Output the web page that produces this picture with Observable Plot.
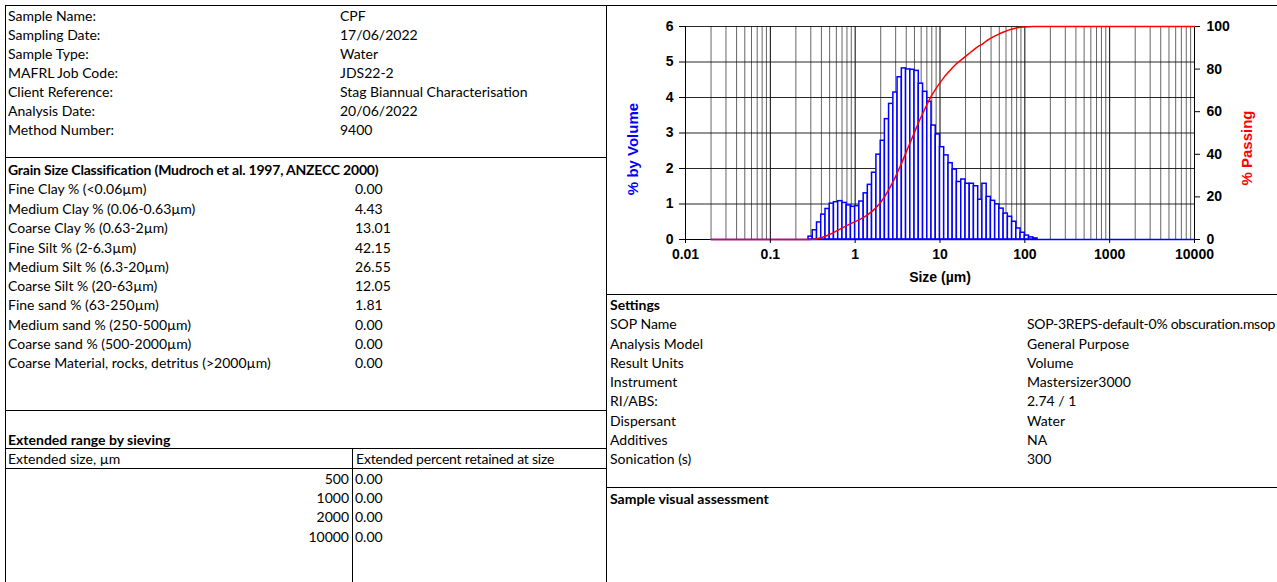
<!DOCTYPE html>
<html><head><meta charset="utf-8">
<script src="https://cdn.jsdelivr.net/npm/d3@7"></script>
<script src="https://cdn.jsdelivr.net/npm/@observablehq/plot@0.6"></script>
<style>
html,body{margin:0;padding:0;background:#fff;}
#page{position:relative;width:1277px;height:582px;overflow:hidden;font-family:Lato,"Open Sans",sans-serif;font-size:14px;color:#000;background:#fff;}
.t{position:absolute;white-space:nowrap;line-height:20px;height:20px;}
.b{font-weight:bold;}
.tight{letter-spacing:-0.2px;}
.tighter{letter-spacing:-0.28px;}
.ln{position:absolute;background:#000;}
#chart{position:absolute;left:607px;top:0;}
</style></head>
<body><div id="page"><div id="chart"></div></div>
<script>
// ---------- table data ----------
const infoLabels = ["Sample Name:", "Sampling Date:", "Sample Type:", "MAFRL Job Code:", "Client Reference:", "Analysis Date:", "Method Number:"];
const infoValues = ["CPF", "17/06/2022", "Water", "JDS22-2", "Stag Biannual Characterisation", "20/06/2022", "9400"];
const grainTitle = "Grain Size Classification (Mudroch et al. 1997, ANZECC 2000)";
const grainLabels = ["Fine Clay % (<0.06µm)", "Medium Clay % (0.06-0.63µm)", "Coarse Clay % (0.63-2µm)", "Fine Silt % (2-6.3µm)", "Medium Silt % (6.3-20µm)", "Coarse Silt % (20-63µm)", "Fine sand % (63-250µm)", "Medium sand % (250-500µm)", "Coarse sand % (500-2000µm)", "Coarse Material, rocks, detritus (>2000µm)"];
const grainValues = ["0.00", "4.43", "13.01", "42.15", "26.55", "12.05", "1.81", "0.00", "0.00", "0.00"];
const sieveTitle = "Extended range by sieving";
const sieveHeaders = ["Extended size, µm", "Extended percent retained at size"];
const sieveSizes = ["500", "1000", "2000", "10000"];
const sievePct = ["0.00", "0.00", "0.00", "0.00"];
const settingsTitle = "Settings";
const settingsLabels = ["SOP Name", "Analysis Model", "Result Units", "Instrument", "RI/ABS:", "Dispersant", "Additives", "Sonication (s)"];
const settingsValues = ["SOP-3REPS-default-0% obscuration.msop", "General Purpose", "Volume", "Mastersizer3000", "2.74 / 1", "Water", "NA", "300"];
const visualTitle = "Sample visual assessment";

// ---------- chart data ----------
const binEdges = [0.282, 0.316, 0.355, 0.398, 0.447, 0.501, 0.562, 0.631, 0.708, 0.794, 0.891,
  1.00, 1.12, 1.26, 1.41, 1.58, 1.78, 2.00, 2.24, 2.51, 2.82, 3.16, 3.55, 3.98, 4.47, 5.01, 5.62, 6.31, 7.08, 7.94, 8.91,
  10.0, 11.2, 12.6, 14.1, 15.8, 17.8, 20.0, 22.4, 25.1, 28.2, 31.6, 35.5, 39.8, 44.7, 50.1, 56.2, 63.1, 70.8, 79.4, 89.1,
  100, 112, 126, 141];
const volumePct = [0.08, 0.26, 0.48, 0.70, 0.86, 1.01, 1.05, 1.08, 1.03, 0.96, 0.92,
  0.94, 1.07, 1.30, 1.54, 1.88, 2.39, 2.78, 3.39, 3.82, 4.14, 4.57, 4.82, 4.79, 4.78, 4.75, 4.39, 4.16, 3.88, 3.21, 2.96,
  2.60, 2.37, 2.15, 1.97, 1.62, 1.69, 1.57, 1.57, 1.50, 1.12, 1.57, 1.20, 1.09, 0.99, 0.87, 0.73, 0.64, 0.50, 0.31, 0.19,
  0.11, 0.06, 0.03];
const passingSize = [0.02, 0.282, 0.316, 0.355, 0.398, 0.447, 0.501, 0.562, 0.631, 0.708, 0.794, 0.891,
  1.00, 1.12, 1.26, 1.41, 1.58, 1.78, 2.00, 2.24, 2.51, 2.82, 3.16, 3.55, 3.98, 4.47, 5.01, 5.62, 6.31, 7.08, 7.94, 8.91,
  10.0, 11.2, 12.6, 14.1, 15.8, 17.8, 20.0, 22.4, 25.1, 28.2, 31.6, 35.5, 39.8, 44.7, 50.1, 56.2, 63.1, 70.8, 79.4, 89.1,
  100, 112, 126, 141, 10000];
const passingPct = [0, 0, 0.08, 0.34, 0.82, 1.51, 2.37, 3.38, 4.42, 5.50, 6.52, 7.48,
  8.39, 9.33, 10.39, 11.69, 13.22, 15.09, 17.47, 20.24, 23.62, 27.42, 31.54, 36.09, 40.89, 45.66, 50.42, 55.15, 59.52, 63.66, 67.52, 70.72,
  73.67, 76.25, 78.61, 80.75, 82.71, 84.33, 86.01, 87.57, 89.14, 90.63, 91.74, 93.31, 94.50, 95.59, 96.57, 97.44, 98.17, 98.81, 99.31, 99.62,
  99.81, 99.92, 99.98, 100, 100];
const measuredRange = [0.02, 10000];
const xTicks = [0.01, 0.1, 1, 10, 100, 1000, 10000];
const xTickLabels = ["0.01", "0.1", "1", "10", "100", "1000", "10000"];
const volTicks = [0, 1, 2, 3, 4, 5, 6];
const passTicks = [0, 20, 40, 60, 80, 100];
const xTitle = "Size (µm)";
const volTitle = "% by Volume";
const passTitle = "% Passing";

// ---------- page layout ----------
const page = document.getElementById("page");
function txt(s, x, yc, cls, align, w) {
  const d = document.createElement("div");
  d.className = "t" + (cls ? " " + cls : "");
  d.textContent = s;
  d.style.top = (yc - 10) + "px";
  if (align === "right") { d.style.left = (x - w) + "px"; d.style.width = w + "px"; d.style.textAlign = "right"; }
  else d.style.left = x + "px";
  page.appendChild(d);
}
function line(x, y, w, h) {
  const d = document.createElement("div");
  d.className = "ln";
  Object.assign(d.style, {left: x + "px", top: y + "px", width: w + "px", height: h + "px"});
  page.appendChild(d);
}
// borders
line(5, 5, 1272, 1);
line(5, 5, 1, 577);
line(606, 5, 1, 577);
line(5, 157, 601, 1);
line(5, 410, 601, 1);
line(5, 448, 601, 1);
line(5, 468, 601, 1);
line(352, 448, 1, 134);
line(606, 294, 671, 1);
line(606, 487, 671, 1);

const infoY = [16, 35, 54, 73, 92, 111, 130];
infoLabels.forEach((s, i) => { txt(s, 8, infoY[i]); txt(infoValues[i], 340, infoY[i]); });
txt(grainTitle, 8, 170, "b tight");
const grainY = [189, 208.5, 228, 247.5, 266.5, 286, 305, 324.5, 343.5, 362.5];
grainLabels.forEach((s, i) => { txt(s, 8, grainY[i]); txt(grainValues[i], 355, grainY[i]); });
txt(sieveTitle, 8, 440, "b");
txt(sieveHeaders[0], 8, 459);
txt(sieveHeaders[1], 356, 459, "tight");
const sieveY = [479, 498, 517, 536.5];
sieveSizes.forEach((s, i) => { txt(s, 349, sieveY[i], "", "right", 120); txt(sievePct[i], 355, sieveY[i]); });
txt(settingsTitle, 610, 304.5, "b");
const setY = [324, 343.5, 362.5, 382, 401, 420.5, 440, 459];
settingsLabels.forEach((s, i) => { txt(s, 610, setY[i]); txt(settingsValues[i], 1027, setY[i], i === 0 ? "tighter" : ""); });
txt(visualTitle, 610, 498.5, "b");

// ---------- chart ----------
const bars = volumePct.map((v, i) => ({x1: binEdges[i], x2: binEdges[i + 1], v}));
const passData = passingSize.map((x, i) => ({x, p: passingPct[i]}));
const baseline = measuredRange.map(x => ({x, y: 0}));
const gridTicks = d3.scaleLog().domain([0.01, 10000]).ticks();
const minorTicks = gridTicks.filter(t => !xTicks.some(m => Math.abs(m - t) / m < 1e-9));
const volMax = volTicks[volTicks.length - 1];
const toVol = p => p * volMax / 100;

const chart = Plot.plot({
  width: 670, height: 292,
  marginLeft: 78, marginRight: 83, marginTop: 26, marginBottom: 53,
  x: {type: "log", domain: [0.01, 10000]},
  y: {domain: [0, 6]},
  style: {fontFamily: '"Liberation Sans", Arial, sans-serif', fontSize: "14px", fontWeight: "bold", color: "#000", background: "transparent", overflow: "visible"},
  marks: [
    Plot.gridX(minorTicks, {stroke: "#555", strokeOpacity: 0.9}),
    Plot.gridX(xTicks, {stroke: "#000", strokeOpacity: 1}),
    Plot.gridY(volTicks.slice(1), {stroke: "#111", strokeOpacity: 0.9}),
    Plot.rect(bars, {x1: "x1", x2: "x2", y1: 0, y2: "v", fill: "#fff", stroke: "#0000ff", strokeWidth: 1.5}),
    Plot.ruleX([0.01], {stroke: "#000"}),
    Plot.ruleX([10000], {stroke: "#000"}),
    Plot.ruleY([0], {stroke: "#000"}),
    Plot.line(baseline, {x: "x", y: "y", stroke: "#0000ff", strokeWidth: 1.5}),
    Plot.line(passData, {x: "x", y: d => toVol(d.p), stroke: "#ff0000", strokeWidth: 1.5}),
    Plot.axisY(volTicks, {anchor: "left", tickSize: 6, tickPadding: 6, label: null}),
    Plot.axisY(passTicks.map(toVol), {anchor: "right", tickSize: 5, tickPadding: 7, tickFormat: d => String(Math.round(d * 100 / volMax)), label: null}),
    Plot.axisX(xTicks, {anchor: "bottom", tickSize: 4, tickPadding: 6, tickFormat: d => xTickLabels[xTicks.indexOf(d)], label: null}),
    Plot.text([xTitle], {text: d => d, frameAnchor: "bottom", dy: 38, textAnchor: "middle", lineAnchor: "middle", fontSize: 14, fontWeight: "bold", fill: "#000"}),
    Plot.text([volTitle], {text: d => d, frameAnchor: "left", dx: -52, dy: 16, rotate: -90, textAnchor: "middle", lineAnchor: "middle", fontSize: 15, fontWeight: "bold", fill: "#0000ff"}),
    Plot.text([passTitle], {text: d => d, frameAnchor: "right", dx: 53, dy: 15, rotate: -90, textAnchor: "middle", lineAnchor: "middle", fontSize: 15, fontWeight: "bold", fill: "#ff0000"})
  ]
});
document.getElementById("chart").appendChild(chart);
</script>
</body></html>
